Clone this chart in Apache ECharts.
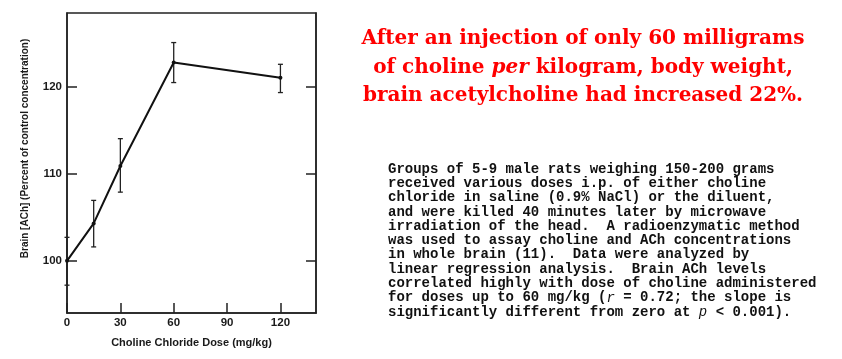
<!DOCTYPE html>
<html>
<head>
<meta charset="utf-8">
<script src="https://cdn.jsdelivr.net/npm/echarts@6/dist/echarts.min.js"></script>
<style>html,body{margin:0;padding:0;background:#fff;}#c{width:842px;height:359px;}</style>
</head>
<body>
<div id="c"></div>
<script>
// ---- data ----
var doses = [0, 15, 30, 60, 120];
var achPercent = [100, 104.3, 110.9, 122.8, 121.05];
var errLow = [97.2, 101.6, 107.9, 120.5, 119.35];
var errHigh = [102.7, 106.95, 114.05, 125.1, 122.6];
var xTicks = [0, 30, 60, 90, 120];
var yTicks = [100, 110, 120];
var xAxisTitle = 'Choline Chloride Dose (mg/kg)';
var yAxisTitle = 'Brain [ACh] (Percent of control concentration)';
var headline = [
  'After an injection of only 60 milligrams',
  ['of choline ', 'per', ' kilogram, body weight,'],
  'brain acetylcholine had increased 22%.'
];
var caption = [
  'Groups of 5-9 male rats weighing 150-200 grams',
  'received various doses i.p. of either choline',
  'chloride in saline (0.9% NaCl) or the diluent,',
  'and were killed 40 minutes later by microwave',
  'irradiation of the head.  A radioenzymatic method',
  'was used to assay choline and ACh concentrations',
  'in whole brain (11).  Data were analyzed by',
  'linear regression analysis.  Brain ACh levels',
  'correlated highly with dose of choline administered',
  ['for doses up to 60 mg/kg (', 'r', ' = 0.72; the slope is'],
  ['significantly different from zero at ', 'p', ' < 0.001).']
];

var chart = echarts.init(document.getElementById('c'), null, {renderer: 'canvas'});

var lineData = doses.map(function (d, i) { return [d, achPercent[i]]; });
var errData = doses.map(function (d, i) { return [d, errLow[i], errHigh[i]]; });

function richLine(l, italicKey) {
  if (typeof l === 'string') return l;
  return l[0] + '{' + italicKey + '|' + l[1] + '}' + l[2];
}

var headText = headline.map(function (l) { return richLine(l, 'it'); }).join('\n');
var capText = caption.map(function (l) { return richLine(l, 'it'); }).join('\n');

var axisFont = 'Liberation Sans';

chart.setOption({
  animation: false,
  backgroundColor: '#ffffff',
  grid: {
    left: 67, right: 526, top: 13, bottom: 46,
    show: true, borderColor: '#222', borderWidth: 1.5, backgroundColor: 'transparent'
  },
  xAxis: {
    type: 'value', min: 0, max: 140,
    name: xAxisTitle, nameLocation: 'middle', nameGap: 24,
    nameTextStyle: {fontFamily: axisFont, fontSize: 11, fontWeight: 'bold', color: '#1a1a1a'},
    axisLine: {show: true, lineStyle: {color: '#222', width: 1.5}},
    axisTick: {show: true, inside: true, length: 10, customValues: xTicks, lineStyle: {color: '#222', width: 1.5}},
    axisLabel: {customValues: xTicks, fontFamily: axisFont, fontSize: 11.5, fontWeight: 'bold', color: '#1a1a1a', margin: 4},
    splitLine: {show: false}
  },
  yAxis: [{
    type: 'value', min: 94, max: 128.5,
    axisLine: {show: true, lineStyle: {color: '#222', width: 1.5}},
    axisTick: {show: true, inside: true, length: 10, customValues: yTicks, lineStyle: {color: '#222', width: 1.5}},
    axisLabel: {customValues: yTicks, fontFamily: axisFont, fontSize: 11.5, fontWeight: 'bold', color: '#1a1a1a', margin: 5},
    splitLine: {show: false}
  }, {
    type: 'value', min: 94, max: 128.5, position: 'right',
    axisLine: {show: true, lineStyle: {color: '#222', width: 1.5}},
    axisTick: {show: true, inside: true, length: 10, customValues: yTicks, lineStyle: {color: '#222', width: 1.5}},
    axisLabel: {show: false},
    splitLine: {show: false}
  }],
  series: [{
    type: 'line',
    data: lineData,
    symbol: 'circle', symbolSize: 4,
    itemStyle: {color: '#111'},
    lineStyle: {color: '#111', width: 2},
    z: 3
  }, {
    type: 'custom',
    data: errData,
    z: 2,
    renderItem: function (params, api) {
      var x = api.value(0);
      var lo = api.coord([x, api.value(1)]);
      var hi = api.coord([x, api.value(2)]);
      var cap = 2.5;
      var style = {stroke: '#222', lineWidth: 1.3, fill: null};
      return {
        type: 'group',
        children: [
          {type: 'line', shape: {x1: lo[0], y1: lo[1], x2: hi[0], y2: hi[1]}, style: style},
          {type: 'line', shape: {x1: lo[0] - cap, y1: lo[1], x2: lo[0] + cap, y2: lo[1]}, style: style},
          {type: 'line', shape: {x1: hi[0] - cap, y1: hi[1], x2: hi[0] + cap, y2: hi[1]}, style: style}
        ]
      };
    }
  }],
  graphic: [{
    type: 'text',
    x: 25, y: 148.5,
    rotation: Math.PI / 2,
    style: {
      text: yAxisTitle,
      fontFamily: axisFont, fontSize: 10, fontWeight: 'bold', fill: '#1a1a1a',
      align: 'center', verticalAlign: 'middle'
    }
  }, {
    type: 'text',
    x: 583, y: 25,
    style: {
      text: headText,
      fontFamily: 'DejaVu Serif', fontSize: 20, fontWeight: 'bold', fill: '#ff0000',
      align: 'center', verticalAlign: 'top', lineHeight: 28.5,
      rich: {it: {fontFamily: 'DejaVu Serif', fontSize: 20, fontWeight: 'bold', fontStyle: 'italic', fill: '#ff0000', lineHeight: 28.5}}
    }
  }, {
    type: 'text',
    x: 388, y: 162,
    style: {
      text: capText,
      fontFamily: 'Liberation Mono', fontSize: 14, fontWeight: 'bold', fill: '#111',
      align: 'left', verticalAlign: 'top', lineHeight: 14.3,
      rich: {it: {fontFamily: 'Liberation Mono', fontSize: 14, fontStyle: 'italic', fill: '#111', lineHeight: 14.3}}
    }
  }]
});
</script>
</body>
</html>
